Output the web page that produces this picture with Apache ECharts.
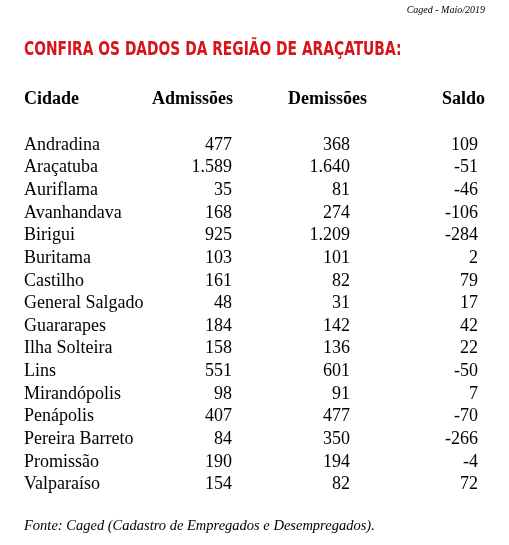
<!DOCTYPE html>
<html><head><meta charset="utf-8">
<script src="https://cdn.jsdelivr.net/npm/echarts@6/dist/echarts.min.js"></script>
<style>html,body{margin:0;padding:0;background:#fff}#c{width:509px;height:545px}</style>
</head><body><div id="c"></div>
<script>
const cities=["Andradina","Araçatuba","Auriflama","Avanhandava","Birigui","Buritama","Castilho","General Salgado","Guararapes","Ilha Solteira","Lins","Mirandópolis","Penápolis","Pereira Barreto","Promissão","Valparaíso"];
const admissoes=["477","1.589","35","168","925","103","161","48","184","158","551","98","407","84","190","154"];
const demissoes=["368","1.640","81","274","1.209","101","82","31","142","136","601","91","477","350","194","82"];
const saldo=["109","-51","-46","-106","-284","2","79","17","42","22","-50","7","-70","-266","-4","72"];
const headers=["Cidade","Admissões","Demissões","Saldo"];
const colX=[24,232,350,478];
const font='"Liberation Serif", serif';
const chart=echarts.init(document.getElementById('c'));
const data=cities.map((c,i)=>[i,c,admissoes[i],demissoes[i],saldo[i]]);
chart.setOption({
  animation:false,
  grid:{left:0,right:0,top:133.5,bottom:49},
  xAxis:{type:'value',min:0,max:509,show:false},
  yAxis:{type:'category',data:cities,inverse:true,show:false},
  graphic:[
    {type:'text',right:24,top:5,style:{text:'Caged - Maio/2019',font:'italic 10px "Liberation Serif", serif',fill:'#000'}},
    {type:'text',x:24,y:41,scaleX:0.81,style:{text:'CONFIRA OS DADOS DA REGIÃO DE ARAÇATUBA:',font:'bold 19px "DejaVu Sans Condensed", sans-serif',fill:'#d7141a'}},
    {type:'text',left:24,top:90,style:{text:headers[0],font:'bold 18px '+font,fill:'#000'}},
    {type:'text',left:152,top:90,style:{text:headers[1],font:'bold 18px '+font,fill:'#000'}},
    {type:'text',left:288,top:90,style:{text:headers[2],font:'bold 18px '+font,fill:'#000'}},
    {type:'text',left:442,top:90,style:{text:headers[3],font:'bold 18px '+font,fill:'#000'}},
    {type:'text',left:24,top:519,style:{text:'Fonte: Caged (Cadastro de Empregados e Desempregados).',font:'italic 14.5px '+font,fill:'#000'}}
  ],
  series:[{
    type:'custom',
    data:data,
    encode:{y:1},
    renderItem:function(params,api){
      const i=api.value(0);
      const y=api.coord([0,i])[1];
      const d=data[params.dataIndex];
      const mk=(x,t,align)=>({type:'text',style:{x:x,y:y,text:t,align:align,verticalAlign:'middle',font:'18px '+font,fill:'#000'}});
      return {type:'group',children:[
        mk(api.coord([colX[0],i])[0],d[1],'left'),
        mk(api.coord([colX[1],i])[0],d[2],'right'),
        mk(api.coord([colX[2],i])[0],d[3],'right'),
        mk(api.coord([colX[3],i])[0],d[4],'right')
      ]};
    }
  }]
});
</script></body></html>
